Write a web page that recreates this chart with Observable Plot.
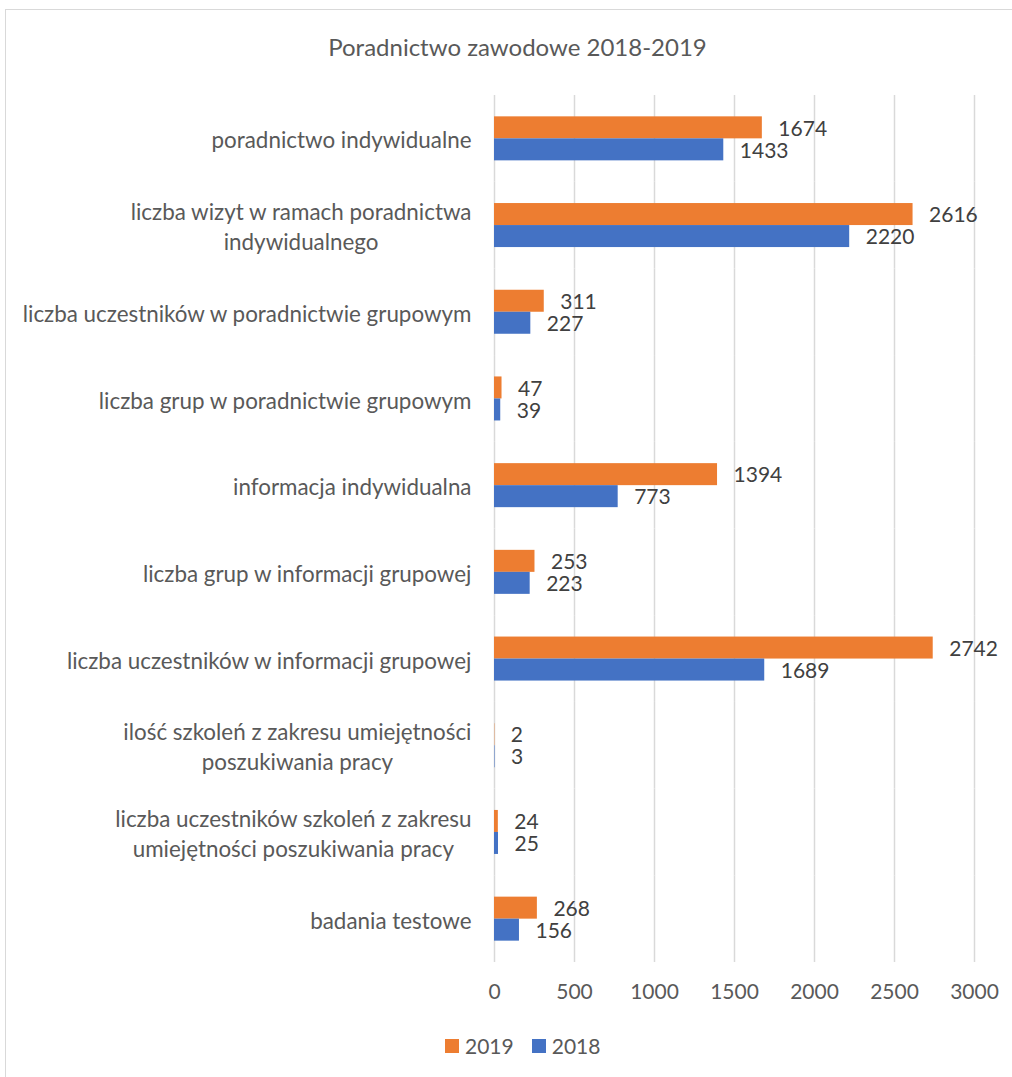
<!DOCTYPE html>
<html><head><meta charset="utf-8">
<script src="https://cdn.jsdelivr.net/npm/d3@7"></script>
<script src="https://cdn.jsdelivr.net/npm/@observablehq/plot@0.6"></script>
<style>
body{margin:0;background:#fff;}
#wrap{position:relative;width:1012px;height:1077px;overflow:hidden;font-family:Lato,sans-serif;background:#fff;}
#frame{position:absolute;left:5px;top:9px;width:1100px;height:1100px;border-left:1.5px solid #d9d9d9;border-top:1.5px solid #d9d9d9;}
#title{position:absolute;left:0;width:1035px;top:32px;text-align:center;font-size:24px;color:#595959;}
#chart{position:absolute;left:0;top:80px;}
#legend{position:absolute;top:1033px;left:445px;display:flex;align-items:center;font-size:21px;color:#595959;}
#legend .sw{width:14px;height:14px;display:inline-block;margin-right:6px;}
#legend .it{display:flex;align-items:center;margin-right:18px;}
</style></head>
<body>
<div id="wrap">
  <div id="frame"></div>
  <div id="title">Poradnictwo zawodowe 2018-2019</div>
  <div id="chart"></div>
  <div id="legend"></div>
</div>
<script>
const categories = [
  "poradnictwo indywidualne",
  "liczba wizyt w ramach poradnictwa indywidualnego",
  "liczba uczestników w poradnictwie grupowym",
  "liczba grup w poradnictwie grupowym",
  "informacja indywidualna",
  "liczba grup w informacji grupowej",
  "liczba uczestników w informacji grupowej",
  "ilość szkoleń z zakresu umiejętności poszukiwania pracy",
  "liczba uczestników szkoleń z zakresu umiejętności poszukiwania pracy",
  "badania testowe"
];
const categoryLabels = [
  "poradnictwo indywidualne",
  "liczba wizyt w ramach poradnictwa\nindywidualnego",
  "liczba uczestników w poradnictwie grupowym",
  "liczba grup w poradnictwie grupowym",
  "informacja indywidualna",
  "liczba grup w informacji grupowej",
  "liczba uczestników w informacji grupowej",
  "ilość szkoleń z zakresu umiejętności\nposzukiwania pracy",
  "liczba uczestników szkoleń z zakresu\numiejętności poszukiwania pracy",
  "badania testowe"
];
const years = ["2019", "2018"];
const values2019 = [1674, 2616, 311, 47, 1394, 253, 2742, 2, 24, 268];
const values2018 = [1433, 2220, 227, 39, 773, 223, 1689, 3, 25, 156];
const xTicks = [0, 500, 1000, 1500, 2000, 2500, 3000];
const colors = ["#ED7D31", "#4472C4"];

const data = categories.flatMap((c, i) => [
  {category: c, year: "2019", value: values2019[i]},
  {category: c, year: "2018", value: values2018[i]}
]);
const labelOf = new Map(categories.map((c, i) => [c, categoryLabels[i]]));

const plot = Plot.plot({
  width: 1012, height: 937,
  marginTop: 15, marginBottom: 55, marginLeft: 494, marginRight: 38,
  style: {fontFamily: "Lato, sans-serif", fontSize: "21px", background: "transparent", overflow: "visible"},
  x: {domain: [0, 3000], axis: null},
  y: {domain: years, paddingInner: 0, paddingOuter: 0.97, round: false, axis: null},
  fy: {domain: categories, padding: 0, round: false, axis: null},
  color: {domain: years, range: colors},
  marks: [
    Plot.gridX(xTicks, {stroke: "#d9d9d9", strokeOpacity: 1, strokeWidth: 1.5}),
    Plot.barX(data, {fy: "category", y: "year", x: "value", fill: "year"}),
    Plot.text(data, {fy: "category", y: "year", x: "value", text: d => String(d.value), textAnchor: "start", dx: 16, dy: 1, fill: "#404040"}),
    Plot.axisFy({anchor: "left", tickSize: 0, tickPadding: 23, tickFormat: d => labelOf.get(d), fill: "#595959", fontSize: 22.4, lineHeight: 1.34, label: null}),
    Plot.axisX({ticks: xTicks, tickSize: 0, tickPadding: 22, tickFormat: d => String(d), fill: "#595959", label: null})
  ]
});
document.getElementById("chart").appendChild(plot);

// center wrapped category labels like the original
plot.querySelectorAll('g[aria-label="fy-axis tick label"] text').forEach(t => {
  const spans = t.querySelectorAll("tspan");
  if (spans.length > 1) {
    let maxW = 0;
    spans.forEach(s => { maxW = Math.max(maxW, s.getComputedTextLength()); });
    t.setAttribute("text-anchor", "middle");
    spans.forEach(s => s.setAttribute("x", -maxW / 2));
  }
});

const legend = document.getElementById("legend");
years.forEach((y, i) => {
  const it = document.createElement("div");
  it.className = "it";
  const sw = document.createElement("span");
  sw.className = "sw";
  sw.style.background = colors[i];
  it.appendChild(sw);
  it.appendChild(document.createTextNode(y));
  legend.appendChild(it);
});
</script>
</body></html>
